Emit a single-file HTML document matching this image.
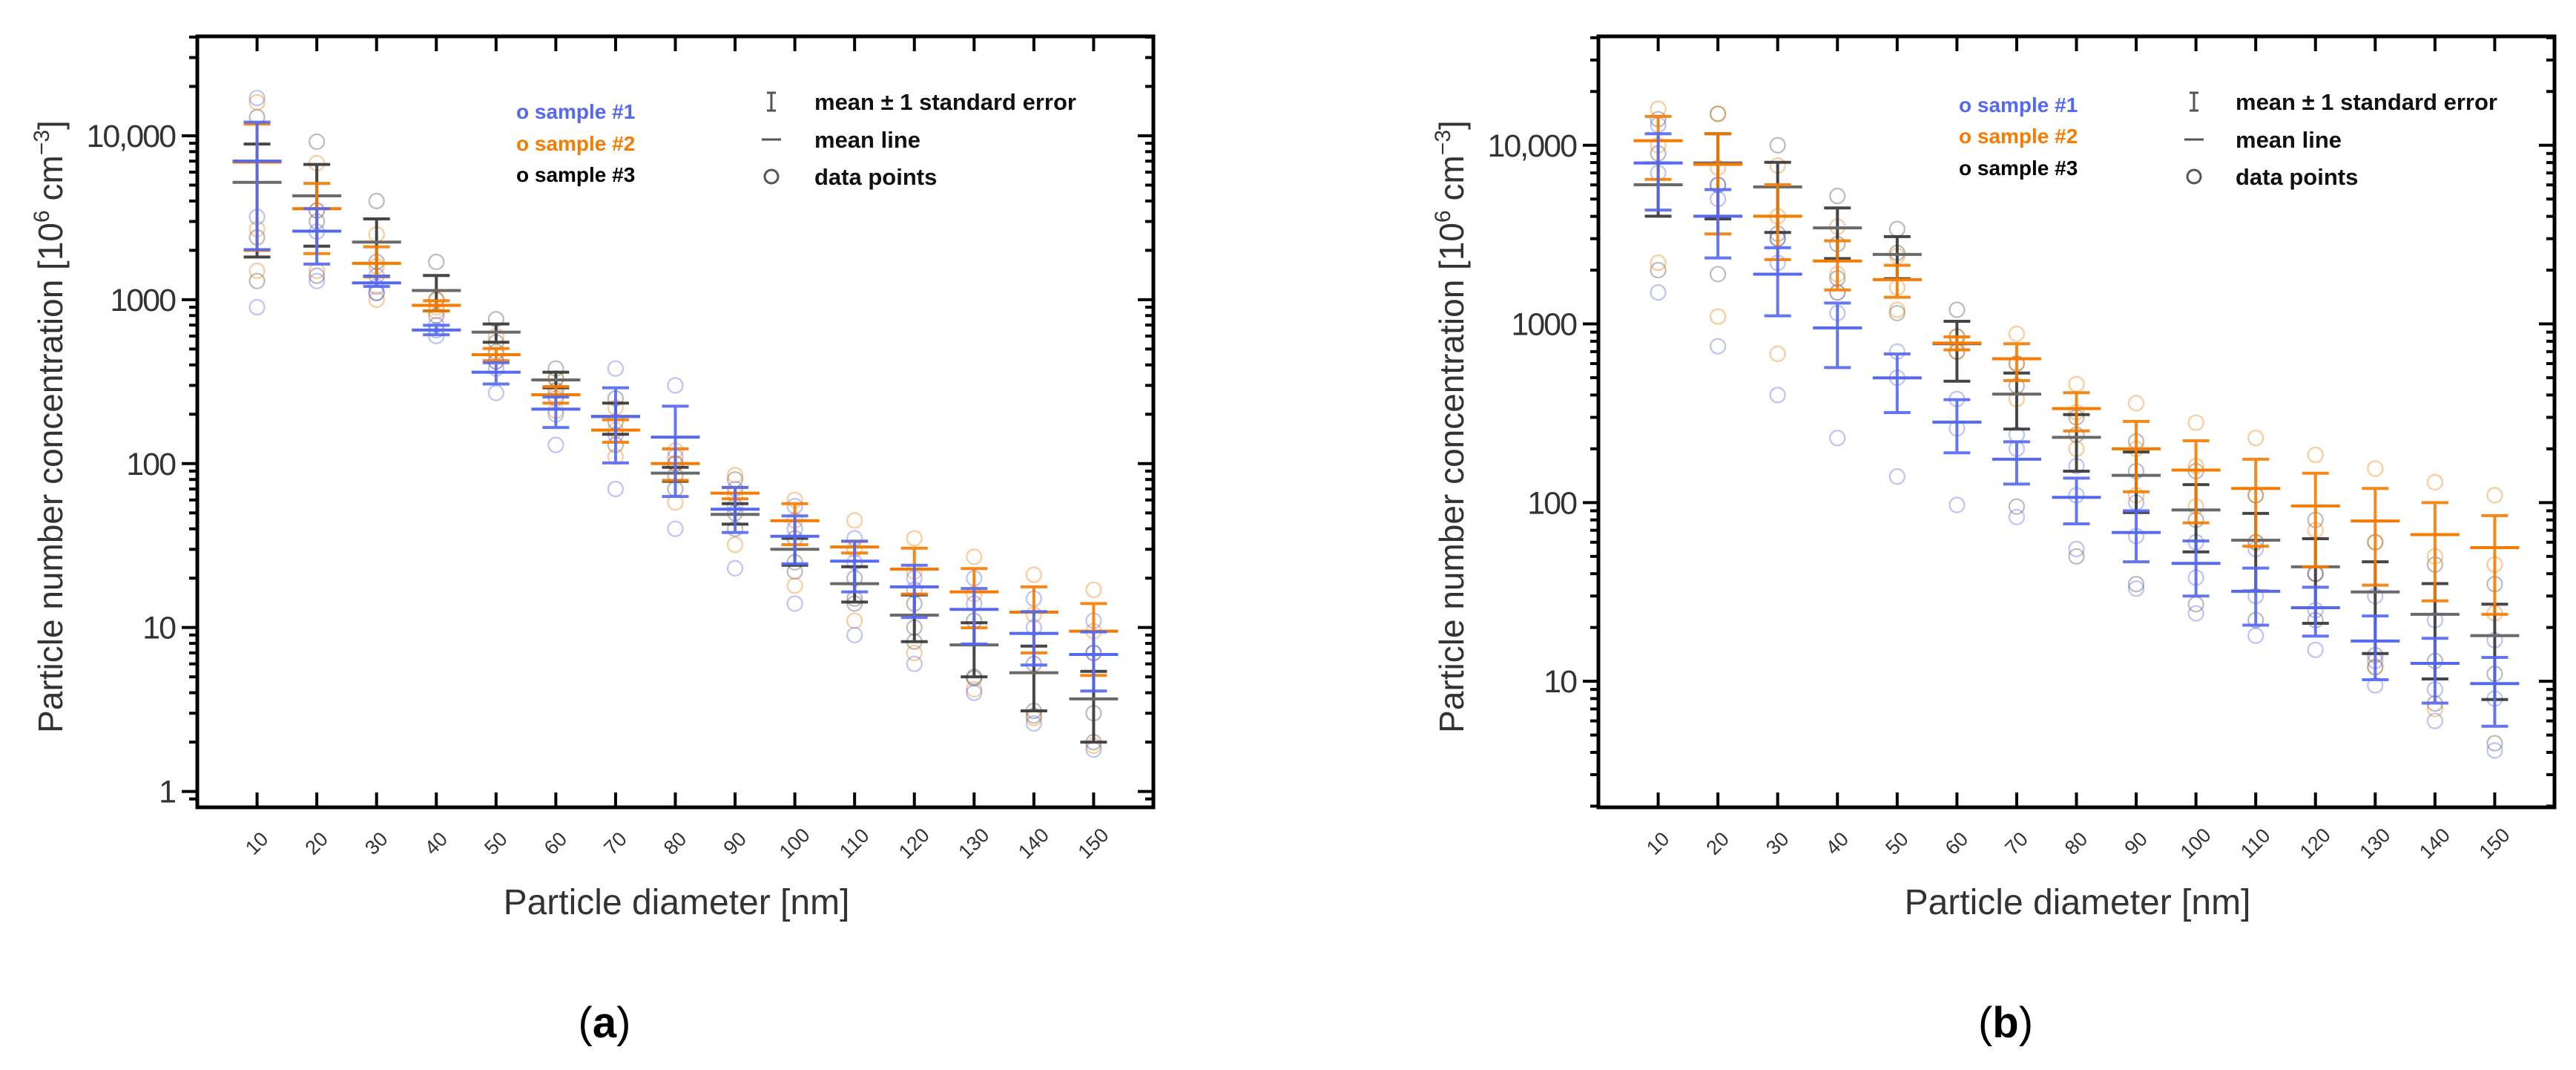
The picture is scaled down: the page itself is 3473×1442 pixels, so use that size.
<!DOCTYPE html>
<html><head><meta charset="utf-8"><style>
html,body{margin:0;padding:0;background:#fff;}
svg{display:block;}
text{font-family:"Liberation Sans",sans-serif;}
</style></head><body>
<svg id="fig" width="3473" height="1442" viewBox="0 0 3473 1442" xmlns="http://www.w3.org/2000/svg"></svg>
<script>
const categories=[10,20,30,40,50,60,70,80,90,100,110,120,130,140,150];
const yTickLabels=["1","10","100","1000","10,000"];
// Panel (a)
const aS1Mean=[7000,2620,1265,653,361,215,194,145,52.7,36,25.4,17.7,12.9,9.2,6.85];
const aS1Hi=[12100,3590,1390,698,412,255,290,224,71.6,48,33.6,24,17.3,12.5,9.4];
const aS1Lo=[2020,1650,1205,611,306,166,101,63,38,24.5,16.5,11.5,7.94,5.9,4.1];
const aS2Mean=[6900,3590,1667,923,462,263,160,100,66,44.8,31,22.7,16.5,12.4,9.5];
const aS2Hi=[11800,5120,2100,986,504,295,185,123,71.6,57,33.6,30.5,22.9,17.7,14];
const aS2Lo=[2000,1910,1378,854,424,234,135,79,61,32,28.5,16,9.95,7,5.1];
const aS3Mean=[5200,4300,2245,1137,634,324,194,87.5,49,30,18.5,11.9,7.83,5.3,3.67];
const aS3Hi=[8900,6680,3110,1405,711,361,234,95,57,35,23.5,15.8,10.7,7.7,5.4];
const aS3Lo=[1820,2120,1390,854,550,290,151,78,42.7,24,14.3,8.2,5,3.1,2];
const aS1Pts=[[17000,3200,900],[3500,2600,1300],[1400,1200,1100],[700,650,600],[420,380,270],[250,200,130],[380,150,70],[300,110,40],[70,55,23],[55,40,14],[35,25,9],[20,17,6],[20,14,4],[15,10,2.6],[11,7,1.8]];
const aS2Pts=[[16000,2700,1500],[6800,3500,1500],[2500,1600,1000],[1000,900,850],[600,460,420],[330,260,210],[220,160,110],[120,100,58],[85,65,32],[60,45,18],[45,30,11],[35,22,7],[27,16,4.2],[21,12,2.8],[17,9.5,1.9]];
const aS3Pts=[[13000,2400,1300],[9200,3000,1400],[4000,1700,1100],[1700,1000,800],[760,550,480],[380,330,280],[250,180,130],[100,85,70],[80,50,40],[35,25,22],[20,15,14],[14,10,8.2],[11,5,4.9],[6,3.1,2.9],[7,3,2]];
// Panel (b)
const bS1Mean=[7960,4010,1900,950,499,282,175,107,68,45.7,31.9,25.8,16.8,12.6,9.7];
const bS1Hi=[11600,5650,2670,1310,679,377,219,137,90,61,43,33.6,23.2,17.4,13.6];
const bS1Lo=[4340,2340,1110,570,319,190,127,76,46.6,30,20.6,17.9,10.2,7.55,5.6];
const bS2Mean=[10600,7820,4010,2250,1770,781,638,336,200,152,120,95.7,78.9,66.2,56];
const bS2Hi=[14500,11600,6010,2920,2130,846,775,412,285,222,175,146,120,100,84.6];
const bS2Lo=[6440,3190,2290,1550,1410,716,482,252,115,77,57,43.7,34.5,28.2,23.7];
const bS3Mean=[6010,7960,5850,3450,2450,775,405,232,142,91,61.6,43.7,31.6,23.7,18];
const bS3Hi=[7960,11600,8030,4460,3080,1035,531,311,192,126,87,62.8,46.6,35.2,27];
const bS3Lo=[4010,3870,3250,2320,1790,478,258,150,88,53,32,21.1,14.3,10.3,7.9];
const bS1Pts=[[13000,7000,1500],[6000,5000,750],[3000,2200,400],[1500,1150,230],[700,500,140],[380,260,97],[240,200,83],[160,110,55],[100,65,33],[60,38,24],[55,30,18],[40,25,15],[30,13,9.5],[22,9,6],[17,8,4.1]];
const bS2Pts=[[16000,10000,2200],[15000,7500,1100],[7700,4000,680],[3500,1900,1500],[2400,1600,1200],[850,780,700],[880,600,380],[460,320,200],[360,200,110],[280,160,95],[230,110,60],[185,70,40],[155,60,12],[130,50,7],[110,45,24]];
const bS3Pts=[[14000,9000,2000],[15000,6000,1900],[10000,3200,3000],[5200,2800,1800],[3400,2500,1150],[1200,850,700],[600,450,95],[300,240,50],[220,150,35],[150,80,27],[110,60,22],[80,40,22],[60,14,12],[45,13,7.5],[35,11,4.5]];

const NS="http://www.w3.org/2000/svg";
const svg=document.getElementById('fig');
function mk(tag,attrs,parent){const e=document.createElementNS(NS,tag);for(const k in attrs)e.setAttribute(k,attrs[k]);(parent||svg).appendChild(e);return e;}
const BLUE="#5468f0",ORANGE="#f57c00",GRAY="#555555",MEANGRAY="#6a6a6a";

function panel(ox,yMinLog,yMaxLog,series,letter,legOff){
  const L=ox,R=ox+1289,T=49,B=1088;
  const g=mk('g',{});
  
  
  const xs=v=>L+(v/160)*(R-L);
  const ys=v=>B-(Math.log10(v)-yMinLog)/(yMaxLog-yMinLog)*(B-T);
  series.forEach(s=>{
    s.pts.forEach((arr,i)=>{arr.forEach(p=>{
      const c=mk('circle',{cx:xs(categories[i]),cy:ys(p),r:10,fill:'none',stroke:s.ptColor,'stroke-width':2.2,opacity:0.4},g);
      
      
    });});
  });
  series.forEach(s=>{
    categories.forEach((c,i)=>{
      const x=xs(c);
      const eb=mk('g',{stroke:s.barColor,'stroke-width':4,opacity:0.9},g);
      
      
      mk('line',{x1:x,x2:x,y1:ys(s.hi[i]),y2:ys(s.lo[i])},eb);
      mk('line',{x1:x-18,x2:x+18,y1:ys(s.hi[i]),y2:ys(s.hi[i])},eb);
      mk('line',{x1:x-18,x2:x+18,y1:ys(s.lo[i]),y2:ys(s.lo[i])},eb);
      const m=mk('line',{x1:x-33,x2:x+33,y1:ys(s.mean[i]),y2:ys(s.mean[i]),stroke:s.meanColor,'stroke-width':4},g);
      
      
    });
  });
  const box=mk('rect',{x:L,y:T,width:R-L,height:B-T,fill:'none',stroke:'#000','stroke-width':5},g);
  
  
  const tk=mk('g',{stroke:'#000','stroke-width':4},g);
  
  
  categories.forEach(c=>{
    const x=xs(c);
    mk('line',{x1:x,x2:x,y1:B,y2:B-20},tk);
    mk('line',{x1:x,x2:x,y1:T,y2:T+20},tk);
    const t=mk('text',{x:0,y:0,'font-size':27,fill:'#333','text-anchor':'middle',transform:`translate(${x+6},${B+55}) rotate(-45)`},g);
    t.textContent=c;
    
    
  });
  for(let d=Math.floor(yMinLog);d<=Math.ceil(yMaxLog);d++){
    for(let m=1;m<10;m++){
      const lv=d+Math.log10(m);
      if(lv<yMinLog||lv>yMaxLog)continue;
      const y=ys(Math.pow(10,lv));
      const len=m===1?21:11;
      mk('line',{x1:L,x2:L-len,y1:y,y2:y},tk);
      mk('line',{x1:R,x2:R-len,y1:y,y2:y},tk);
      if(m===1&&d>=0&&d<=4){
        const t=mk('text',{x:L-30,y:y+15,'font-size':43,fill:'#333','text-anchor':'end','letter-spacing':-2},g);
        t.textContent=yTickLabels[d];
        
        
      }
    }
  }
  const yt=mk('text',{x:0,y:0,'font-size':46,fill:'#333','text-anchor':'middle',transform:`translate(${L-182},575) rotate(-90)`},g);
  yt.innerHTML='Particle number concentration [10<tspan dy="-18" font-size="30">6</tspan><tspan dy="18"> cm</tspan><tspan dy="-18" font-size="30">−3</tspan><tspan dy="18">]</tspan>';
  
  
  const xt=mk('text',{x:L+646,y:1232,'font-size':48,fill:'#333','text-anchor':'middle'},g);
  xt.textContent='Particle diameter [nm]';
  
  
  const pl=mk('text',{x:L+549,y:1398,'font-size':58,fill:'#000','text-anchor':'middle','font-family':'"Liberation Serif",serif'},g);
  pl.innerHTML='(<tspan font-weight="bold">'+letter+'</tspan>)';
  
  
  const sl=[['o sample #1',BLUE],['o sample #2',ORANGE],['o sample #3','#000']];
  sl.forEach((s,i)=>{
    const t=mk('text',{x:L+legOff.sx,y:legOff.sy[i]+10,'font-size':28,'font-weight':'bold',fill:s[1]},g);
    t.textContent=s[0];
    
    
  });
  const ix=L+legOff.ix, ry=legOff.ry;
  const ic=mk('g',{stroke:'#555','stroke-width':3,fill:'none'},g);
  
  
  mk('line',{x1:ix,x2:ix,y1:ry[0]-12,y2:ry[0]+12},ic);
  mk('line',{x1:ix-6,x2:ix+6,y1:ry[0]-12,y2:ry[0]-12},ic);
  mk('line',{x1:ix-6,x2:ix+6,y1:ry[0]+12,y2:ry[0]+12},ic);
  mk('line',{x1:ix-13,x2:ix+13,y1:ry[1],y2:ry[1]},ic);
  mk('circle',{cx:ix,cy:ry[2],r:9},ic);
  ['mean ± 1 standard error','mean line','data points'].forEach((s,i)=>{
    const t=mk('text',{x:L+legOff.tx,y:ry[i]+11,'font-size':31,'font-weight':'bold',fill:'#111'},g);
    t.textContent=s;
    
    
  });
}
panel(266,Math.log10(0.8),Math.log10(40400),[
  {name:'s3',mean:aS3Mean,hi:aS3Hi,lo:aS3Lo,pts:aS3Pts,barColor:'#333',meanColor:MEANGRAY,ptColor:GRAY},
  {name:'s2',mean:aS2Mean,hi:aS2Hi,lo:aS2Lo,pts:aS2Pts,barColor:ORANGE,meanColor:ORANGE,ptColor:ORANGE},
  {name:'s1',mean:aS1Mean,hi:aS1Hi,lo:aS1Lo,pts:aS1Pts,barColor:BLUE,meanColor:BLUE,ptColor:BLUE}
],'a',{sx:430,sy:[150,193,235],ix:774,tx:832,ry:[137,188,238]});
panel(2155,Math.log10(1.97),Math.log10(40700),[
  {name:'s3',mean:bS3Mean,hi:bS3Hi,lo:bS3Lo,pts:bS3Pts,barColor:'#333',meanColor:MEANGRAY,ptColor:GRAY},
  {name:'s2',mean:bS2Mean,hi:bS2Hi,lo:bS2Lo,pts:bS2Pts,barColor:ORANGE,meanColor:ORANGE,ptColor:ORANGE},
  {name:'s1',mean:bS1Mean,hi:bS1Hi,lo:bS1Lo,pts:bS1Pts,barColor:BLUE,meanColor:BLUE,ptColor:BLUE}
],'b',{sx:486,sy:[141,183,226],ix:803,tx:859,ry:[137,188,238]});
</script>
</body></html>
